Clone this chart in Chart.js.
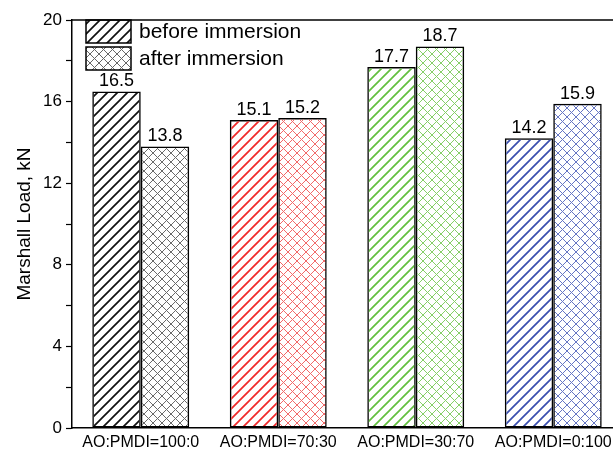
<!DOCTYPE html>
<html>
<head>
<meta charset="utf-8">
<script src="https://cdn.jsdelivr.net/npm/chart.js@4/dist/chart.umd.min.js"></script>
<style>
  html, body { margin: 0; padding: 0; background: #fff; overflow: hidden; }
  #wrap { width: 640px; height: 454px; }
</style>
</head>
<body>
<div id="wrap"><canvas id="chart" width="640" height="454"></canvas></div>
<script>
// ---- data ----
const categories = ['AO:PMDI=100:0', 'AO:PMDI=70:30', 'AO:PMDI=30:70', 'AO:PMDI=0:100'];
const beforeImmersion = [16.5, 15.1, 17.7, 14.2];
const afterImmersion = [13.8, 15.2, 18.7, 15.9];
const seriesNames = ['before immersion', 'after immersion'];
const yTicks = [0, 4, 8, 12, 16, 20];

// hatch colours per category
const beforeColors = ['#111111', '#f02a2a', '#62bf3e', '#3a4fae'];
const afterColors = ['#6a6a6a', '#f26a6a', '#86cf68', '#6676c4'];

const FONT = 'Arial, "Liberation Sans", sans-serif';

// build a repeating hatch pattern: '/' lines, optionally crossed with '\'
function hatch(color, lw, size, cross) {
    const c = document.createElement('canvas');
    c.width = size; c.height = size;
    const g = c.getContext('2d');
    g.strokeStyle = color;
    g.lineWidth = lw;
    g.beginPath();
    g.moveTo(-1, size + 1); g.lineTo(size + 1, -1);
    g.moveTo(-1, 1); g.lineTo(1, -1);
    g.moveTo(size - 1, size + 1); g.lineTo(size + 1, size - 1);
    if (cross) {
        g.moveTo(-1, -1); g.lineTo(size + 1, size + 1);
        g.moveTo(size - 1, -1); g.lineTo(size + 1, 1);
        g.moveTo(-1, size - 1); g.lineTo(1, size + 1);
    }
    g.stroke();
    return g.createPattern(c, 'repeat');
}

const beforeFill = beforeColors.map(c => hatch(c, 1.7, 10, false));
const afterFill = afterColors.map(c => hatch(c, 1, 9, true));

// value labels above each bar
const valueLabels = {
    id: 'valueLabels',
    afterDatasetsDraw(chart) {
        const ctx = chart.ctx;
        ctx.save();
        ctx.font = '18px ' + FONT;
        ctx.fillStyle = '#000';
        ctx.textAlign = 'center';
        ctx.textBaseline = 'bottom';
        chart.data.datasets.forEach((ds, i) => {
            chart.getDatasetMeta(i).data.forEach((bar, j) => {
                ctx.fillText(ds.data[j].toFixed(1), bar.x, bar.y - 1);
            });
        });
        ctx.restore();
    }
};

// top frame line + legend inside the plot
const frameLegend = {
    id: 'frameLegend',
    afterDraw(chart) {
        const { ctx, chartArea } = chart;
        ctx.save();
        ctx.strokeStyle = '#000';
        ctx.lineWidth = 1.5;
        ctx.beginPath();
        ctx.moveTo(chartArea.left, chartArea.top);
        ctx.lineTo(chartArea.right, chartArea.top);
        ctx.stroke();

        const fills = [hatch('#111', 1.7, 10, false), hatch('#666', 1, 9, true)];
        const bx = chartArea.left + 14, bw = 45, bh = 23;
        ctx.font = '21px ' + FONT;
        ctx.textBaseline = 'middle';
        seriesNames.forEach((name, i) => {
            const by = chartArea.top + i * 27;
            ctx.fillStyle = fills[i];
            ctx.fillRect(bx, by, bw, bh);
            ctx.lineWidth = 1.5;
            ctx.strokeRect(bx, by, bw, bh);
            ctx.fillStyle = '#000';
            ctx.fillText(name, bx + bw + 8, by + bh / 2 + 1);
        });
        ctx.restore();
    }
};

new Chart(document.getElementById('chart'), {
    type: 'bar',
    data: {
        labels: categories,
        datasets: [
            {
                label: seriesNames[0],
                data: beforeImmersion,
                backgroundColor: beforeFill,
                borderColor: '#000',
                borderWidth: 1.5,
                borderSkipped: false
            },
            {
                label: seriesNames[1],
                data: afterImmersion,
                backgroundColor: afterFill,
                borderColor: '#000',
                borderWidth: 1.5,
                borderSkipped: false
            }
        ]
    },
    options: {
        responsive: false,
        animation: false,
        events: [],
        layout: { padding: { top: 20, right: 18, left: 0, bottom: 0 } },
        datasets: { bar: { categoryPercentage: 0.705, barPercentage: 1.0 } },
        plugins: {
            legend: { display: false },
            tooltip: { enabled: false }
        },
        scales: {
            x: {
                grid: { display: false, drawTicks: false },
                border: { display: true, color: '#000', width: 1.5 },
                ticks: {
                    color: '#000',
                    font: { family: FONT, size: 16 },
                    padding: 5,
                    maxRotation: 0,
                    autoSkip: false
                },
                afterFit: (s) => { s.height = 26; }
            },
            y: {
                min: 0,
                max: 20,
                grid: {
                    drawOnChartArea: false,
                    drawTicks: true,
                    tickLength: 6,
                    tickColor: '#000',
                    tickWidth: 1.2
                },
                border: { display: true, color: '#000', width: 1.5 },
                ticks: {
                    stepSize: 2,
                    color: '#000',
                    font: { family: FONT, size: 17 },
                    padding: 4,
                    callback: (v) => yTicks.includes(v) ? v : ''
                },
                title: {
                    display: true,
                    text: 'Marshall Load, kN',
                    color: '#000',
                    font: { family: FONT, size: 19 },
                    padding: { top: 13, bottom: 0 }
                },
                afterFit: (s) => { s.width = 72; }
            }
        }
    },
    plugins: [valueLabels, frameLegend]
});
</script>
</body>
</html>
